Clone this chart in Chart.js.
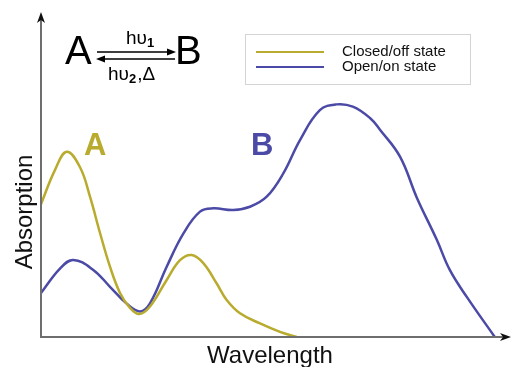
<!DOCTYPE html>
<html lang="en">
<head>
<meta charset="UTF-8">
<title>Absorption spectra</title>
<script src="https://cdn.jsdelivr.net/npm/chart.js"></script>
<style>
  body { margin: 0; background: #fff; }
  #wrap { width: 511px; height: 367px; }
</style>
</head>
<body>
<div id="wrap"><canvas id="chart" width="511" height="367"></canvas></div>
<script>
// values (arbitrary units: wavelength 0-100, absorption 0-1)
var closedX = [0, 3, 5.54, 8.41, 10.56, 12.72, 14.87, 17.03, 19.18, 21.19, 23.49, 27.09, 29.96, 32.48, 34.98, 37.87, 40.02, 42.89, 47.2, 51.51, 55.1];
var closedY = [0.41, 0.515, 0.572, 0.524, 0.433, 0.321, 0.217, 0.136, 0.09, 0.071, 0.094, 0.176, 0.237, 0.253, 0.228, 0.165, 0.114, 0.073, 0.042, 0.016, 0];
var openX = [0, 4.09, 6.96, 11.27, 14.87, 18.47, 21.34, 23.49, 27.09, 30.67, 34.27, 37.13, 41.44, 45.04, 48.64, 52.22, 55.82, 60.1, 63.7, 67.2, 70.9, 73.1, 77.4, 81, 85.3, 88.1, 91.8, 97.8];
var openY = [0.136, 0.211, 0.238, 0.207, 0.155, 0.103, 0.079, 0.104, 0.217, 0.319, 0.387, 0.397, 0.392, 0.402, 0.433, 0.505, 0.608, 0.70, 0.718, 0.711, 0.676, 0.639, 0.556, 0.43, 0.30, 0.207, 0.123, 0];
var seriesNames = ['Closed/off state', 'Open/on state'];

var yellow = '#b8ab2e';
var blue = '#4b4aa6';

function toPoints(xs, ys) {
  return xs.map(function (x, i) { return { x: x, y: ys[i] }; });
}

// text with a subscript right after it
function subText(ctx, main, sub, x, y) {
  ctx.font = '19px "Liberation Sans", Arial, sans-serif';
  ctx.fillText(main, x, y);
  var w = ctx.measureText(main).width;
  ctx.font = 'bold 13px "Liberation Sans", Arial, sans-serif';
  ctx.fillText(sub, x + w, y + 3);
  return x + w + ctx.measureText(sub).width;
}

// axes, legend and annotations drawn on top of the chart
var decorations = {
  id: 'decorations',
  afterDraw: function (chart) {
    var ctx = chart.ctx;
    var a = chart.chartArea;
    ctx.save();

    // axes
    ctx.strokeStyle = '#6e6e6e';
    ctx.lineWidth = 2;
    ctx.beginPath();
    ctx.moveTo(a.left, 16);
    ctx.lineTo(a.left, a.bottom);
    ctx.lineTo(505, a.bottom);
    ctx.stroke();
    ctx.fillStyle = '#111';
    ctx.beginPath();
    ctx.moveTo(a.left, 12); ctx.lineTo(a.left - 4, 23); ctx.lineTo(a.left, 20); ctx.lineTo(a.left + 4, 23);
    ctx.closePath(); ctx.fill();
    ctx.beginPath();
    ctx.moveTo(511, a.bottom); ctx.lineTo(500, a.bottom - 4); ctx.lineTo(503, a.bottom); ctx.lineTo(500, a.bottom + 4);
    ctx.closePath(); ctx.fill();

    // axis titles
    ctx.fillStyle = '#111';
    ctx.font = '24px "Liberation Sans", Arial, sans-serif';
    ctx.textAlign = 'center';
    ctx.textBaseline = 'alphabetic';
    ctx.fillText('Wavelength', 270, 363);
    ctx.save();
    ctx.translate(32, 212);
    ctx.rotate(-Math.PI / 2);
    ctx.fillText('Absorption', 0, 0);
    ctx.restore();

    // legend
    ctx.strokeStyle = '#d4d4d4';
    ctx.lineWidth = 1;
    ctx.strokeRect(245.5, 34.5, 225, 50);
    ctx.font = '15px "Liberation Sans", Arial, sans-serif';
    ctx.textAlign = 'left';
    ctx.textBaseline = 'middle';
    chart.data.datasets.forEach(function (ds, i) {
      var y = 52 + i * 15;
      ctx.strokeStyle = ds.borderColor;
      ctx.lineWidth = 2;
      ctx.beginPath();
      ctx.moveTo(256, y); ctx.lineTo(324, y);
      ctx.stroke();
      ctx.fillStyle = '#111';
      ctx.fillText(ds.label, 342, y);
    });

    // curve labels
    ctx.font = 'bold 31px "Liberation Sans", Arial, sans-serif';
    ctx.textBaseline = 'alphabetic';
    ctx.fillStyle = yellow;
    ctx.fillText('A', 84, 155);
    ctx.fillStyle = blue;
    ctx.fillText('B', 251, 155);

    // reaction scheme
    ctx.fillStyle = '#000';
    ctx.font = '40px "Liberation Sans", Arial, sans-serif';
    ctx.fillText('A', 65, 64);
    ctx.fillText('B', 175, 64);
    ctx.strokeStyle = '#000';
    ctx.lineWidth = 1.5;
    ctx.beginPath();
    ctx.moveTo(97, 52); ctx.lineTo(172, 52);
    ctx.moveTo(100, 59); ctx.lineTo(175, 59);
    ctx.stroke();
    ctx.beginPath();
    ctx.moveTo(176, 52); ctx.lineTo(167, 48.5); ctx.lineTo(167, 55.5); ctx.closePath(); ctx.fill();
    ctx.beginPath();
    ctx.moveTo(96, 59); ctx.lineTo(105, 55.5); ctx.lineTo(105, 62.5); ctx.closePath(); ctx.fill();

    subText(ctx, 'h\u03c5', '1', 126, 44);
    var end = subText(ctx, 'h\u03c5', '2', 108, 80);
    ctx.font = '19px "Liberation Sans", Arial, sans-serif';
    ctx.fillText(',\u0394', end + 1, 80);

    ctx.restore();
  }
};

new Chart(document.getElementById('chart'), {
  type: 'line',
  data: {
    datasets: [{
      label: seriesNames[0],
      data: toPoints(closedX, closedY),
      borderColor: yellow,
      borderWidth: 2.5,
      pointRadius: 0,
      tension: 0.4,
      fill: false
    }, {
      label: seriesNames[1],
      data: toPoints(openX, openY),
      borderColor: blue,
      borderWidth: 2.5,
      pointRadius: 0,
      tension: 0.4,
      fill: false
    }]
  },
  options: {
    responsive: false,
    animation: false,
    layout: { padding: { left: 41, right: 6, top: 13, bottom: 30 } },
    plugins: { legend: { display: false }, tooltip: { enabled: false } },
    scales: {
      x: { type: 'linear', min: 0, max: 100, display: false },
      y: { min: 0, max: 1, display: false }
    }
  },
  plugins: [decorations]
});
</script>
</body>
</html>
